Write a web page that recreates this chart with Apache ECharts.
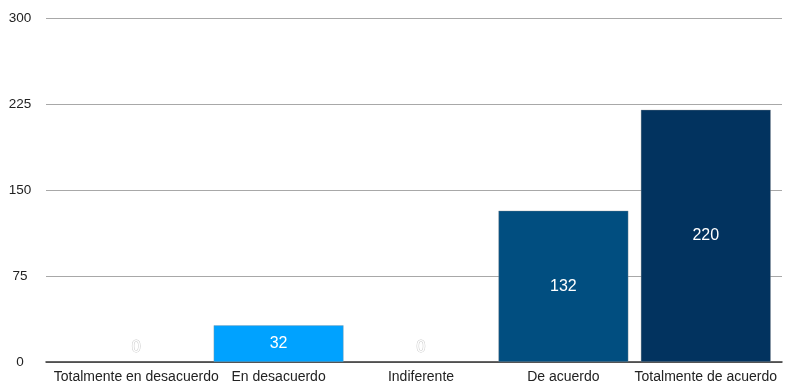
<!DOCTYPE html>
<html>
<head>
<meta charset="utf-8">
<script src="https://cdn.jsdelivr.net/npm/echarts@6/dist/echarts.min.js"></script>
<style>
  html, body { margin: 0; padding: 0; background: #fff; }
  #chart { width: 785px; height: 383px; }
</style>
</head>
<body>
<div id="chart"></div>
<script>
// Survey answers and their counts
const categories = ['Totalmente en desacuerdo', 'En desacuerdo', 'Indiferente', 'De acuerdo', 'Totalmente de acuerdo'];
const counts = [0, 32, 0, 132, 220];
const barColors = ['#00a2ff', '#00a2ff', '#00a2ff', '#014e80', '#02335f'];
const yTicks = { min: 0, max: 300, interval: 75 };

const FONT = '"Liberation Sans", Arial, sans-serif';

const barData = counts.map((v, i) => {
  const item = { value: v, itemStyle: { color: barColors[i] } };
  if (v === 0) {
    // empty bars: no outline, only a faint outlined value label
    item.itemStyle.borderWidth = 0;
    item.label = {
      position: 'insideBottom',
      distance: 6,
      color: '#ffffff',
      textBorderColor: '#c8c8c8',
      textBorderWidth: 1
    };
  }
  return item;
});

const chart = echarts.init(document.getElementById('chart'), null, { renderer: 'canvas' });
chart.setOption({
  animation: false,
  backgroundColor: '#ffffff',
  grid: [
    // full-width grid carrying the value gridlines and baseline
    { left: 46, right: 3, top: 18, bottom: 21, containLabel: false, outerBoundsMode: 'none' },
    // inner grid holding the bars
    { left: 65, right: 8, top: 18, bottom: 21, containLabel: false, outerBoundsMode: 'none' }
  ],
  xAxis: [
    {
      gridIndex: 0, type: 'value', min: 0, max: 1,
      axisLine: { show: true, lineStyle: { color: '#333333', width: 1.5 } },
      axisTick: { show: false }, axisLabel: { show: false }, splitLine: { show: false }
    },
    {
      gridIndex: 1, type: 'category', data: categories,
      axisLine: { show: false }, axisTick: { show: false },
      axisLabel: { color: '#222222', fontSize: 14, fontFamily: FONT, margin: 8, interval: 0 }
    }
  ],
  yAxis: [
    {
      gridIndex: 0, type: 'value', min: yTicks.min, max: yTicks.max, interval: yTicks.interval,
      axisLine: { show: false }, axisTick: { show: false },
      axisLabel: { color: '#222222', fontSize: 13.5, fontFamily: FONT, align: 'center', margin: 26 },
      splitLine: { show: true, lineStyle: { color: '#a8a8a8', width: 1.2 } }
    },
    {
      gridIndex: 1, type: 'value', min: yTicks.min, max: yTicks.max, interval: yTicks.interval,
      show: false, splitLine: { show: false }
    }
  ],
  series: [
    {
      type: 'line', xAxisIndex: 0, yAxisIndex: 0, data: [], silent: true
    },
    {
      type: 'bar', xAxisIndex: 1, yAxisIndex: 1,
      barWidth: 130,
      data: barData,
      itemStyle: { borderColor: 'rgba(150,150,150,0.6)', borderWidth: 0.6 },
      label: {
        show: true, position: 'inside', color: '#ffffff',
        fontSize: 16, fontFamily: FONT
      }
    }
  ]
});
</script>
</body>
</html>
